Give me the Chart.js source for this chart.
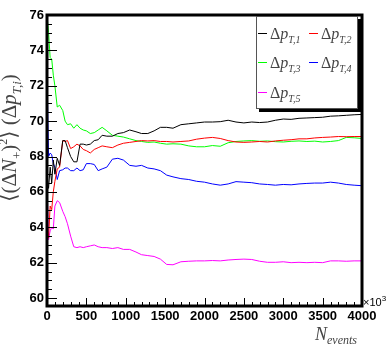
<!DOCTYPE html>
<html><head><meta charset="utf-8">
<script src="https://cdn.jsdelivr.net/npm/chart.js@4"></script>
<style>html,body{margin:0;padding:0;background:#fff}#wrap{width:392px;height:354px}</style>
</head><body><div id="wrap"><canvas id="c" width="392" height="354"></canvas></div>
<script>
// ---- data ----
const nEvents = [0,20,40,60,80,100,130,160,200,230,260,300,340,380,420,460,500,550,600,650,700,760,830,900,970,1050,1130,1200,1280,1360,1440,1520,1600,1700,1800,1900,2000,2100,2200,2300,2400,2500,2600,2700,2800,2900,3000,3100,3200,3300,3400,3500,3600,3700,3800,3900,4000];
const dpT1 = [67.0,66.2,67.4,66.5,67.8,67.0,67.9,67.5,68.9,68.9,68.5,68.0,67.7,67.7,68.7,68.7,68.65,68.7,68.9,68.95,69.2,69.15,69.15,69.3,69.35,69.5,69.4,69.3,69.3,69.45,69.65,69.65,69.6,69.8,69.85,69.9,69.95,69.95,69.97,70.05,69.95,69.9,69.95,69.92,69.95,70.05,70.12,70.1,70.16,70.18,70.2,70.22,70.28,70.3,70.33,70.36,70.38];
const dpT2 = [64.0,63.4,65.2,65.0,66.0,66.6,67.3,67.4,68.9,68.85,68.9,68.45,68.55,68.7,68.6,68.4,68.33,68.2,68.4,68.5,68.6,68.55,68.5,68.65,68.75,68.8,68.85,68.9,68.88,68.9,68.85,68.85,68.82,68.85,68.88,68.98,69.04,69.08,69.02,68.9,68.82,68.8,68.82,68.85,68.82,68.88,68.92,68.95,69.0,69.0,69.05,69.08,69.1,69.13,69.12,69.13,69.13];
const dpT3 = [76.0,75.0,73.6,73.5,72.6,72.0,70.8,70.9,70.6,70.0,69.8,69.85,69.6,69.8,69.6,69.5,69.45,69.3,69.35,69.5,69.65,69.45,69.2,69.15,69.1,69.0,68.9,68.85,68.8,68.82,68.75,68.7,68.72,68.7,68.6,68.55,68.55,68.62,68.58,68.78,68.85,68.88,68.9,68.86,68.88,68.84,68.82,68.86,68.88,68.85,68.87,68.82,68.85,68.9,69.08,69.06,69.02];
const dpT4 = [72.8,68.0,68.2,68.1,67.6,67.4,66.7,67.2,67.25,67.35,67.35,67.2,67.2,67.35,67.2,67.25,67.6,67.6,67.55,67.2,67.3,67.4,67.85,67.9,67.8,67.5,67.45,67.5,67.35,67.3,67.2,66.95,66.85,66.75,66.7,66.6,66.55,66.45,66.38,66.45,66.58,66.55,66.52,66.45,66.42,66.38,66.42,66.4,66.45,66.48,66.5,66.5,66.55,66.5,66.42,66.38,66.35];
const dpT5 = [66.5,63.3,63.8,64.0,63.9,65.2,65.5,65.4,64.9,64.6,64.2,63.5,62.9,62.85,62.9,62.85,62.9,62.95,63.0,62.9,62.85,62.85,62.8,62.85,62.75,62.75,62.6,62.45,62.4,62.35,62.2,61.9,61.88,62.05,62.08,62.1,62.1,62.12,62.1,62.15,62.18,62.2,62.18,62.08,62.02,62.02,62.05,62.0,62.02,62.0,62.02,62.0,62.1,62.1,62.08,62.1,62.1];
const seriesSubs = ['T,1','T,2','T,3','T,4','T,5'];
const seriesColors = ['#000000','#ff0000','#00ff00','#0000ff','#ff00ff'];
const yTickValues = [60,62,64,66,68,70,72,74,76];
const xTickValues = [0,500,1000,1500,2000,2500,3000,3500,4000];

const allSeries = [dpT1,dpT2,dpT3,dpT4,dpT5];
const datasets = allSeries.map((arr,i)=>({
  label: 'Δp' + seriesSubs[i],
  data: nEvents.map((x,j)=>({x:x,y:arr[j]})),
  borderColor: seriesColors[i],
  borderWidth: 1,
  pointRadius: 0,
  tension: 0,
  fill: false
}));

const SERIF = '"Liberation Serif","DejaVu Serif",serif';
const TICKFONT = {family:'"Liberation Sans Narrow","Liberation Sans",Arial,sans-serif', weight:'bold', size:13};

function drawRich(ctx, parts, x, y){
  let cx = x;
  for (const p of parts){
    ctx.font = (p[2]?'italic ':'') + p[1] + 'px ' + SERIF;
    ctx.fillText(p[0], cx, y + (p[3]||0));
    cx += ctx.measureText(p[0]).width;
  }
  return cx - x;
}
function richWidth(ctx, parts){
  let w=0;
  for (const p of parts){ ctx.font=(p[2]?'italic ':'')+p[1]+'px '+SERIF; w+=ctx.measureText(p[0]).width; }
  return w;
}

const decor = {
  id:'decor',
  afterDraw(chart){
    const {ctx, chartArea:a, scales} = chart;
    const xs = scales.x, ys = scales.y;
    ctx.save();
    ctx.strokeStyle='#000'; ctx.lineWidth=1;
    ctx.beginPath();
    for (let v=60; v<=76.001; v+=0.5){
      const py = Math.round(ys.getPixelForValue(v))+0.5;
      const len = (Math.abs(v/2-Math.round(v/2))<1e-6) ? 10 : 5;
      ctx.moveTo(a.left, py); ctx.lineTo(a.left+len, py);
    }
    for (let v=0; v<=4000; v+=100){
      const px = Math.round(xs.getPixelForValue(v))+0.5;
      const len = (v%500===0) ? 8 : 4;
      ctx.moveTo(px, a.bottom); ctx.lineTo(px, a.bottom-len);
    }
    ctx.stroke();
    ctx.lineWidth=3;
    ctx.strokeRect(a.left, a.top, a.right-a.left, a.bottom-a.top);

    // legend box with shadow
    const L=256, T=16, R=358, B=109;
    ctx.fillStyle='#000';
    ctx.fillRect(L+3, B, R-L, 3);
    ctx.fillRect(R, T+3, 3, B-T);
    ctx.fillStyle='#fff';
    ctx.fillRect(L, T, R-L, B-T);
    ctx.lineWidth=1; ctx.strokeStyle='#555';
    ctx.strokeRect(L+0.5, T+0.5, R-L-1, B-T-1);
    const pos = [[258,33],[309,33],[258,62],[309,62],[258,92]];
    ctx.textBaseline='alphabetic'; ctx.textAlign='left';
    pos.forEach((p,i)=>{
      ctx.strokeStyle=seriesColors[i]; ctx.lineWidth=1;
      ctx.beginPath(); ctx.moveTo(p[0], p[1]+0.5); ctx.lineTo(p[0]+9, p[1]+0.5); ctx.stroke();
      ctx.fillStyle='#444';
      drawRich(ctx, [['Δ',16,false,0],['p',16,true,0],[seriesSubs[i],10,true,4]], p[0]+12, p[1]+6);
    });

    // x axis title
    ctx.fillStyle='#444';
    drawRich(ctx, [['N',18,true,0],['events',12,true,4]], 315, 340);
    // x10^3
    ctx.fillStyle='#000';
    ctx.font='11px "Liberation Sans",Arial,sans-serif';
    ctx.fillText('×10', 363, 306);
    const w10 = ctx.measureText('×10').width;
    ctx.font='8px "Liberation Sans",Arial,sans-serif';
    ctx.fillText('3', 363+w10, 301);

    // y axis title (rotated)
    const yparts = [['⟨',21,false,0],['(',21,false,0],['Δ',21,false,0],['N',21,true,0],['+',13,false,5],[')',21,false,0],['2',12,false,-9],['⟩',21,false,0],[' (',21,false,0],['Δ',21,false,0],['p',21,true,0],['T,i',13,true,5],[')',21,false,0]];
    const tw = richWidth(ctx, yparts);
    ctx.translate(16, 138);
    ctx.rotate(-Math.PI/2);
    ctx.fillStyle='#444';
    drawRich(ctx, yparts, -tw/2, 0);
    ctx.restore();
  }
};

new Chart(document.getElementById('c'), {
  type:'line',
  data:{datasets},
  options:{
    responsive:false, animation:false, devicePixelRatio:1,
    layout:{padding:{top:15,right:30,left:0,bottom:0}},
    plugins:{legend:{display:false}, tooltip:{enabled:false}},
    scales:{
      x:{type:'linear', min:0, max:4000,
        afterBuildTicks:s=>{s.ticks = xTickValues.map(v=>({value:v}));},
        afterFit:s=>{s.height=48;},
        grid:{display:false, drawTicks:false}, border:{display:false},
        ticks:{font:TICKFONT, color:'#000', padding:3, maxRotation:0, autoSkip:false, callback:v=>String(v)}},
      y:{type:'linear', min:59.55, max:76,
        afterBuildTicks:s=>{s.ticks = yTickValues.map(v=>({value:v}));},
        afterFit:s=>{s.width=47;},
        grid:{display:false, drawTicks:false}, border:{display:false},
        ticks:{font:TICKFONT, color:'#000', padding:3, autoSkip:false, callback:v=>String(v)}}
    }
  },
  plugins:[decor]
});
</script>
</body></html>
